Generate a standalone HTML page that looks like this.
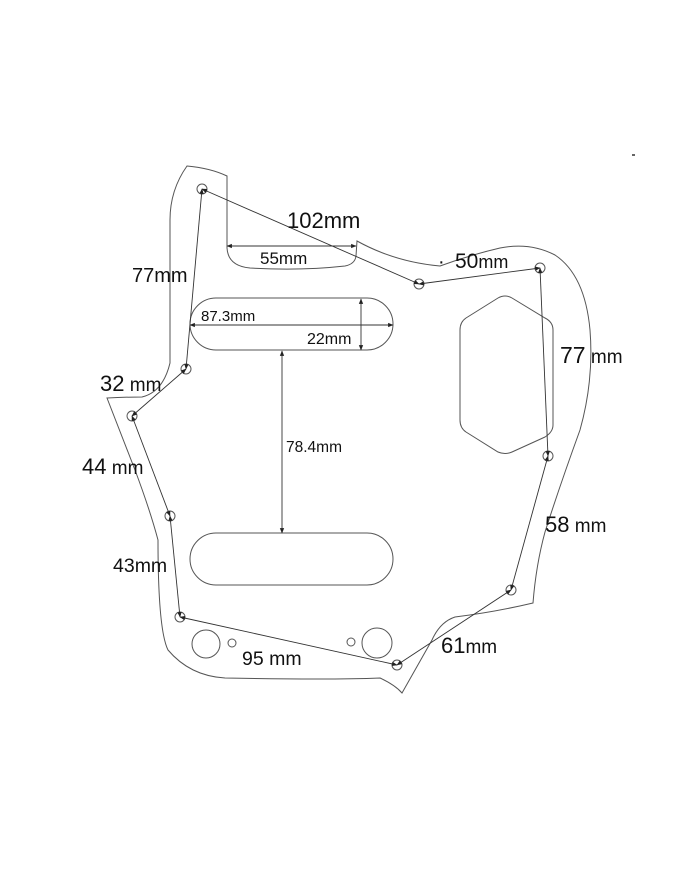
<!DOCTYPE html>
<html><head><meta charset="utf-8"><style>
html,body{margin:0;padding:0;background:#fff;}
svg{display:block;}
text{font-family:"Liberation Sans","DejaVu Sans",sans-serif;fill:#111;}
</style></head><body>
<svg width="700" height="869" viewBox="0 0 700 869" xmlns="http://www.w3.org/2000/svg">
<defs>
<marker id="a" viewBox="0 0 10 10" refX="9" refY="5" markerWidth="6" markerHeight="6" orient="auto-start-reverse"><path d="M0,1 L10,5 L0,9z" fill="#222"/></marker>
</defs>
<g fill="none" stroke="#555" stroke-width="1">
<path d="M187,166 Q210,168 227,176 L227,248 Q228,266 250,268 Q300,271 345,266 Q355,264 356,256 L357,241 Q395,262 440,266 Q470,255 500,248 Q530,242 555,255 Q585,275 590,330 Q594,380 580,430 Q560,485 545,532 Q536,565 533,603 Q495,612 455,617 Q440,622 432,640 L402,693 Q395,685 380,678 Q330,680 225,678 Q190,676 168,650 Q158,630 158,540 Q150,510 135,470 L107,398 Q125,397 142,397 Q163,392 170,363 L170,220 Q170,190 187,166 Z"/>
<rect x="190" y="298" width="203" height="52" rx="26"/>
<rect x="190" y="533" width="203" height="52" rx="26"/>
<path d="M498,298 Q505,294 512,298 L545,318 Q553,322 553,330 L553,425 Q553,432 545,437 L512,452 Q505,455 498,452 L466,432 Q460,428 460,420 L460,330 Q460,322 466,318 Z"/>
<circle cx="206" cy="644" r="14"/><circle cx="232" cy="643" r="4"/>
<circle cx="351" cy="642" r="4"/><circle cx="377" cy="643" r="15"/>
<circle cx="202" cy="189" r="5"/><circle cx="186" cy="369" r="5"/><circle cx="132" cy="416" r="5"/>
<circle cx="170" cy="516" r="5"/><circle cx="180" cy="617" r="5"/><circle cx="397" cy="665" r="5"/>
<circle cx="511" cy="590" r="5"/><circle cx="548" cy="456" r="5"/><circle cx="540" cy="268" r="5"/>
<circle cx="419" cy="284" r="5"/>
</g>
<g fill="none" stroke="#333" stroke-width="0.9" marker-start="url(#a)" marker-end="url(#a)">
<line x1="202" y1="189" x2="419" y2="284"/>
<line x1="419" y1="284" x2="540" y2="268"/>
<line x1="540" y1="268" x2="548" y2="456"/>
<line x1="548" y1="456" x2="511" y2="590"/>
<line x1="511" y1="590" x2="397" y2="665"/>
<line x1="397" y1="665" x2="180" y2="617"/>
<line x1="180" y1="617" x2="170" y2="516"/>
<line x1="170" y1="516" x2="132" y2="416"/>
<line x1="132" y1="416" x2="186" y2="369"/>
<line x1="186" y1="369" x2="202" y2="189"/>
<line x1="227" y1="246" x2="356" y2="246"/>
<line x1="190" y1="325" x2="393" y2="325"/>
<line x1="361" y1="299" x2="361" y2="350"/>
<line x1="282" y1="351" x2="282" y2="533"/>
</g>
<text x="287" y="228" font-size="22">102mm</text>
<text x="260" y="264" font-size="17">55mm</text>
<text x="438" y="268" font-size="20">·</text>
<text x="455" y="268" font-size="21">50<tspan font-size="18">mm</tspan></text>
<text x="132" y="282" font-size="20">77mm</text>
<text x="201" y="321" font-size="15">87.3mm</text>
<text x="307" y="344" font-size="16">22mm</text>
<text x="560" y="363" font-size="23">77<tspan font-size="19"> mm</tspan></text>
<text x="100" y="391" font-size="22">32<tspan font-size="19"> mm</tspan></text>
<text x="286" y="452" font-size="15.5">78.4mm</text>
<text x="82" y="474" font-size="22">44<tspan font-size="19"> mm</tspan></text>
<text x="545" y="532" font-size="22">58<tspan font-size="19"> mm</tspan></text>
<text x="113" y="572" font-size="19.5">43mm</text>
<text x="441" y="653" font-size="22">61<tspan font-size="19">mm</tspan></text>
<text x="242" y="665" font-size="19.5">95 mm</text>
<rect x="632" y="154" width="3" height="2" fill="#666"/>
</svg>
</body></html>
